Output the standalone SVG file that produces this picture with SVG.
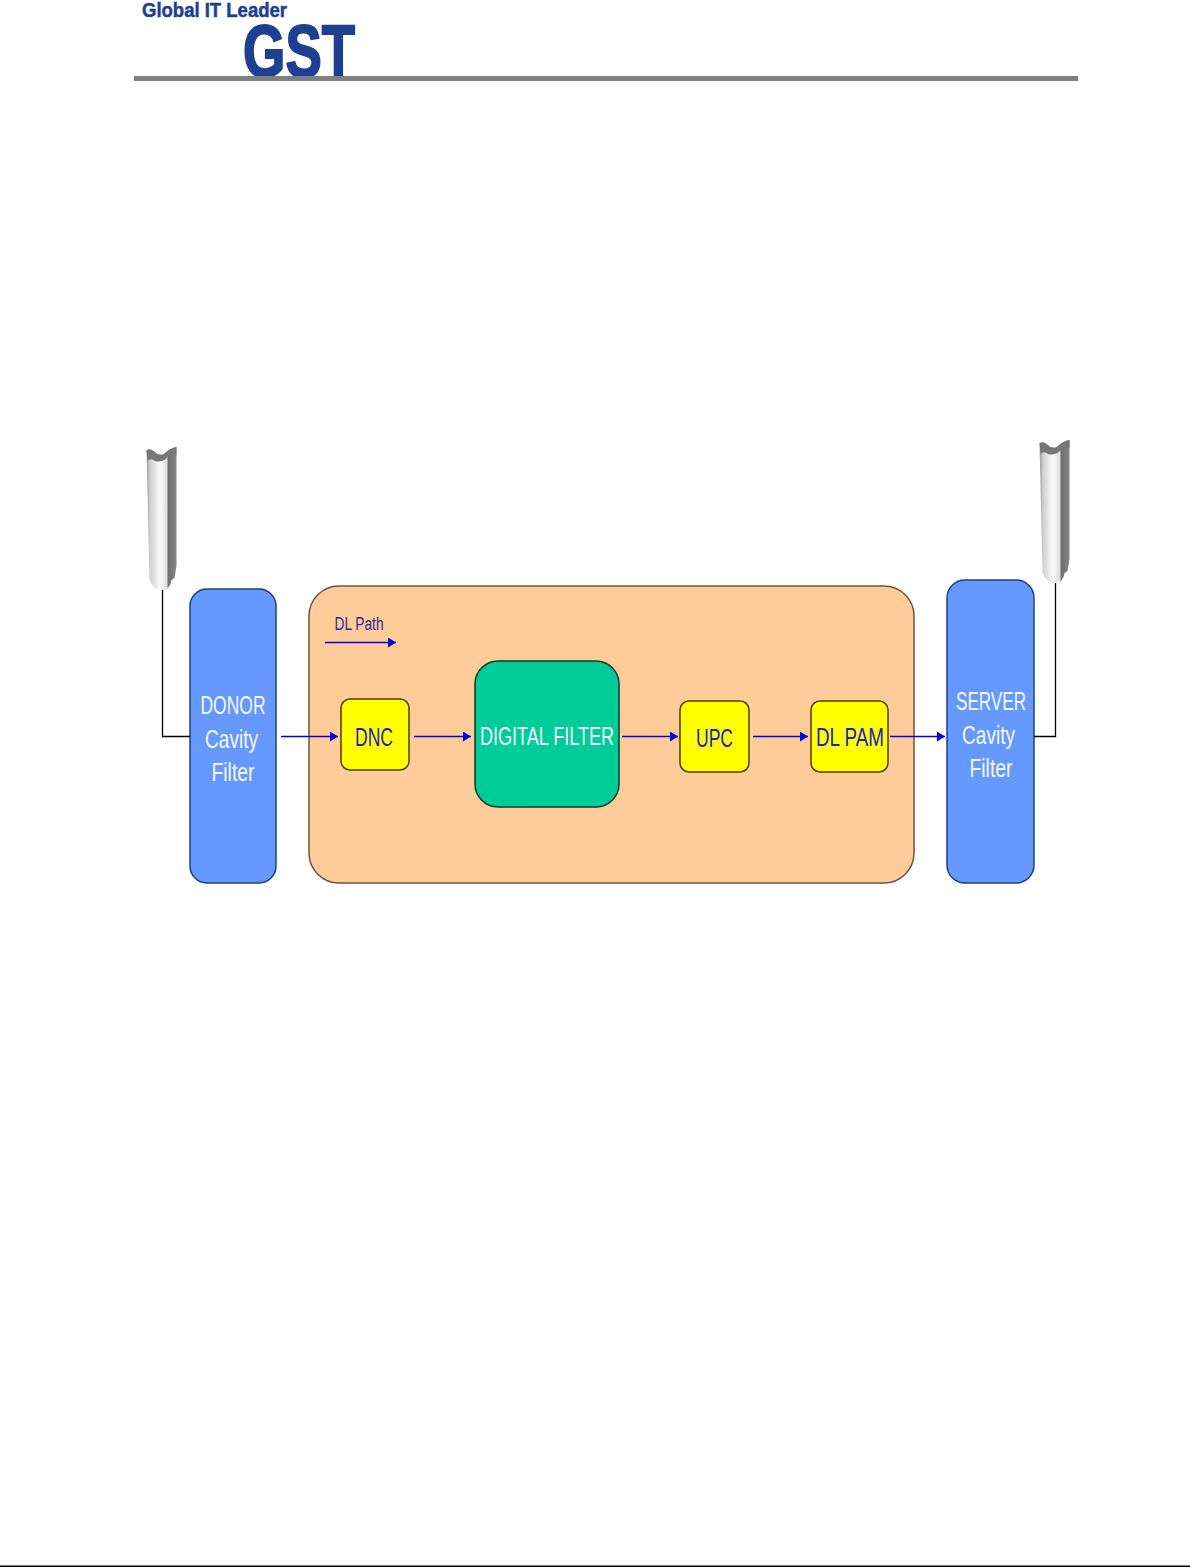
<svg xmlns="http://www.w3.org/2000/svg" width="1190" height="1567" viewBox="0 0 1190 1567">
<style>
text{font-family:"Liberation Sans",Arial,sans-serif;text-anchor:middle}
.wire{fill:none;stroke:#000;stroke-width:1.3}
.flow{fill:none;stroke:#0000e0;stroke-width:1.3;marker-end:url(#ah)}
.filter{fill:#6699ff;stroke:#1f3f77;stroke-width:1.5}
.amp{fill:#ffff00;stroke:#4d3d00;stroke-width:1.5}
.w{fill:#f4f8ff;font-size:26px}
.b{fill:#2020d0;font-size:26px}
.logo{fill:#1f3f92;font-weight:bold;stroke:#1f3f92}
</style>
<defs>
<marker id="ah" markerUnits="userSpaceOnUse" markerWidth="9" markerHeight="10" refX="8" refY="5" orient="auto"><path d="M0 0L8 5L0 10Z" fill="#0000e0"/></marker>
<linearGradient id="ant" x1="0" x2="1" y1="0" y2="0"><stop offset="0" stop-color="#9a9a9a"/><stop offset=".12" stop-color="#d0d0d0"/><stop offset=".45" stop-color="#fbfbfb"/><stop offset=".68" stop-color="#dcdcdc"/><stop offset=".72" stop-color="#6e6e6e"/><stop offset="1" stop-color="#858585"/></linearGradient>
<g id="antenna">
<path d="M0 3Q4 1 7 4Q12 9 17 7Q24 1 30 0V119L28 131L25 133Q24 143 14 143Q6 143 3 132Z" fill="url(#ant)"/>
<path d="M0 3Q4 1 7 4Q12 9 17 7Q24 1 30 0V8Q22 8 18 13Q10 16 7 13Q3 11 1 14Z" fill="#777"/>
</g>
</defs>
<g id="logo">
<text class="logo" stroke-width=".5" x="214.500" y="16.500" font-size="20" textLength="145" lengthAdjust="spacingAndGlyphs">Global IT Leader</text>
<text class="logo" stroke-width="2" x="299" y="77" font-size="74" textLength="112" lengthAdjust="spacingAndGlyphs">GST</text>
</g>
<rect id="header-rule" x="134" y="76" width="944" height="5" fill="#808080"/>
<rect id="footer-rule" x="0" y="1565.500" width="1190" height="1.500" fill="#000"/>
<g id="antenna-left"><use href="#antenna" x="146.500" y="447"/></g>
<g id="antenna-right"><use href="#antenna" x="1039.500" y="440"/></g>
<g id="donor-filter"><rect class="filter" x="190" y="589" width="86" height="294" rx="17"/>
<text class="w" x="233" y="714" textLength="65" lengthAdjust="spacingAndGlyphs">DONOR</text>
<text class="w" x="231.500" y="748" textLength="53" lengthAdjust="spacingAndGlyphs">Cavity</text>
<text class="w" x="233" y="781" textLength="43" lengthAdjust="spacingAndGlyphs">Filter</text></g>
<g id="dl-path-box"><rect x="309" y="586" width="605" height="297" rx="30" fill="#ffcc99" stroke="#6b5540" stroke-width="1.500"/>
<text x="359" y="630" font-size="18" fill="#2a2a9c" textLength="49" lengthAdjust="spacingAndGlyphs">DL Path</text>
<path d="M325 642.500H396" fill="none" stroke="#0000e0" stroke-width="1.600" marker-end="url(#ah)"/></g>
<g id="server-filter"><rect class="filter" x="947" y="580" width="87" height="303" rx="18"/>
<text class="w" x="991" y="710" textLength="70" lengthAdjust="spacingAndGlyphs">SERVER</text>
<text class="w" x="988.500" y="744" textLength="53" lengthAdjust="spacingAndGlyphs">Cavity</text>
<text class="w" x="991" y="777" textLength="43" lengthAdjust="spacingAndGlyphs">Filter</text></g>
<g id="dnc"><rect class="amp" x="341" y="699" width="68" height="71" rx="9"/>
<text class="b" x="374" y="746" textLength="38" lengthAdjust="spacingAndGlyphs">DNC</text></g>
<g id="digital-filter"><rect x="475" y="661" width="144" height="146" rx="23" fill="#00cc99" stroke="#0a3a2c" stroke-width="1.500"/>
<text class="w" x="547" y="745" textLength="134" lengthAdjust="spacingAndGlyphs">DIGITAL FILTER</text></g>
<g id="upc"><rect class="amp" x="680" y="701" width="69" height="71" rx="9"/>
<text class="b" x="714.500" y="747" textLength="37" lengthAdjust="spacingAndGlyphs">UPC</text></g>
<g id="dl-pam"><rect class="amp" x="811" y="701" width="77" height="71" rx="9"/>
<text class="b" x="850" y="746" textLength="68" lengthAdjust="spacingAndGlyphs">DL PAM</text></g>
<g id="connectors">
<path class="wire" d="M162.500 590V736.500H190"/>
<path class="wire" d="M1055.500 583V736.500H1034"/>
<path class="flow" d="M281 736.500H338"/>
<path class="flow" d="M414 736.500H471"/>
<path class="flow" d="M622 736.500H678"/>
<path class="flow" d="M753 736.500H808"/>
<path class="flow" d="M890 736.500H945"/>
</g>
</svg>
